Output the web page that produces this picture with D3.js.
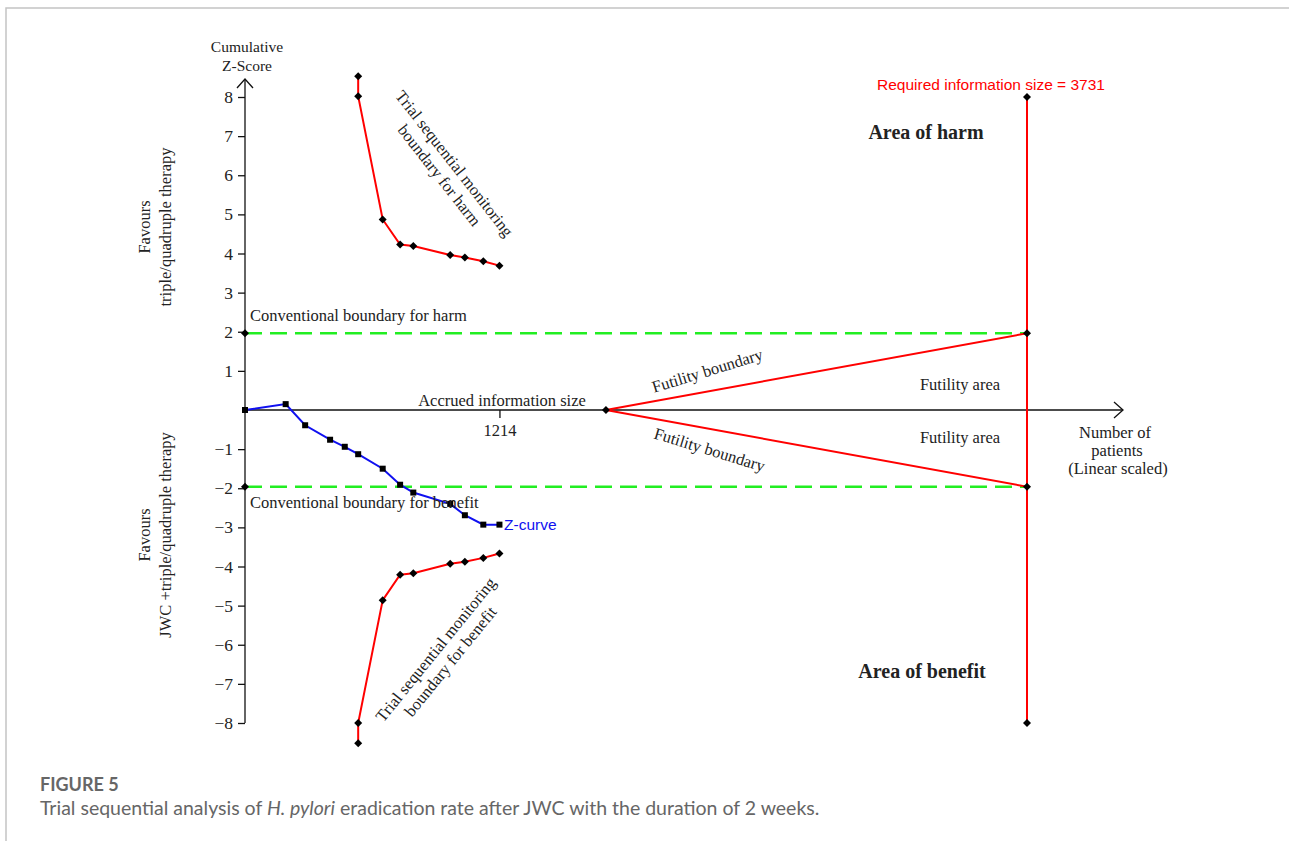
<!DOCTYPE html>
<html lang="en">
<head>
  <meta charset="UTF-8">
  <title>Trial sequential analysis</title>
  <style type="text/css">
    html, body { margin: 0; padding: 0; background: #fff; }
    svg { display: block; }
    .serif { font-family: "Liberation Serif", "Times New Roman", serif; fill: #222; }
    .sans { font-family: "Liberation Sans", Arial, sans-serif; }
    .caption { font-family: Lato, "Open Sans", sans-serif; fill: #666; }
  </style>
</head>
<body>
<div id="chart"></div>
<script src="https://cdn.jsdelivr.net/npm/d3@7"></script>
<script type="text/javascript">
  // data
  var requiredSize = 3731;
  var accruedTick = 1214;
  var conventionalZ = 1.96;
  var futilityStart = 1722;

  var zPatients = [0, 194, 287, 406, 476, 540, 657, 740, 803, 979, 1049, 1137, 1214];
  var zScores = [0, 0.15, -0.39, -0.76, -0.94, -1.13, -1.50, -1.91, -2.11, -2.40, -2.69, -2.93, -2.93];

  var boundaryPatients = [540, 540, 657, 740, 803, 979, 1049, 1137, 1214];
  var harmBoundary = [8.53, 8.02, 4.87, 4.23, 4.19, 3.96, 3.90, 3.80, 3.69];
  var benefitBoundary = [-8.52, -8.0, -4.86, -4.21, -4.17, -3.93, -3.88, -3.78, -3.67];

  var yTicks = [-8, -7, -6, -5, -4, -3, -2, -1, 1, 2, 3, 4, 5, 6, 7, 8];

  var width = 1289, height = 841;

  var svg = d3.select("#chart").append("svg")
    .attr("width", width)
    .attr("height", height);

  // page frame
  svg.append("path")
    .attr("d", "M6,841V8H1289")
    .attr("fill", "none")
    .attr("stroke", "#c4c4c4")
    .attr("stroke-width", 1.5);

  var x = d3.scaleLinear().domain([0, requiredSize]).range([245, 1027]);
  var y = d3.scaleLinear().domain([-8, 8]).range([723, 97]);

  var diamond = "M0,-4L4,0L0,4L-4,0Z";
  var line = d3.line().x(d => x(d[0])).y(d => y(d[1]));

  // axes
  var axes = svg.append("g").attr("stroke", "#111").attr("fill", "none").attr("stroke-width", 1.3);
  axes.append("line").attr("x1", x(0)).attr("x2", x(0)).attr("y1", 79).attr("y2", y(-8));
  axes.append("path").attr("d", "M" + (x(0) - 8) + ",88L" + x(0) + ",79L" + (x(0) + 8) + ",88");
  axes.append("line").attr("x1", x(0)).attr("x2", 1123).attr("y1", y(0)).attr("y2", y(0));
  axes.append("path").attr("d", "M1114,402L1123," + y(0) + "L1114,418");

  var yAxis = d3.axisLeft(y).tickValues(yTicks).tickSize(7).tickPadding(5)
    .tickFormat(d => d < 0 ? "\u2212" + Math.abs(d) : d);
  var gy = svg.append("g").attr("transform", "translate(" + x(0) + ",0)").call(yAxis);
  gy.select(".domain").remove();
  gy.selectAll(".tick line").attr("stroke", "#111").attr("stroke-width", 1.3);
  gy.selectAll(".tick text").attr("class", "serif").attr("font-size", 17.5).attr("fill", "#333");

  var xAxis = d3.axisBottom(x).tickValues([accruedTick]).tickSize(8).tickPadding(6)
    .tickFormat(d3.format("d"));
  var gx = svg.append("g").attr("transform", "translate(0," + y(0) + ")").call(xAxis);
  gx.select(".domain").remove();
  gx.selectAll(".tick line").attr("stroke", "#111").attr("stroke-width", 1.3);
  gx.selectAll(".tick text").attr("class", "serif").attr("font-size", 16.5).attr("fill", "#222");

  // conventional boundaries
  [conventionalZ, -conventionalZ].forEach(function(z) {
    svg.append("line")
      .attr("x1", x(0)).attr("x2", x(requiredSize))
      .attr("y1", y(z)).attr("y2", y(z))
      .attr("stroke", "#22ee22").attr("stroke-width", 2.5)
      .attr("stroke-dasharray", "17,8");
  });

  // required information size
  svg.append("line")
    .attr("x1", x(requiredSize)).attr("x2", x(requiredSize))
    .attr("y1", y(8)).attr("y2", y(-8))
    .attr("stroke", "red").attr("stroke-width", 2);

  // futility boundaries
  var futUpper = [[futilityStart, 0], [requiredSize, conventionalZ]];
  var futLower = [[futilityStart, 0], [requiredSize, -conventionalZ]];
  [futUpper, futLower].forEach(function(pts) {
    svg.append("path").attr("d", line(pts)).attr("fill", "none")
      .attr("stroke", "red").attr("stroke-width", 2);
  });

  // monitoring boundaries
  var harmPts = boundaryPatients.map((p, i) => [p, harmBoundary[i]]);
  var benefitPts = boundaryPatients.map((p, i) => [p, benefitBoundary[i]]);
  [harmPts, benefitPts].forEach(function(pts) {
    svg.append("path").attr("d", line(pts)).attr("fill", "none")
      .attr("stroke", "red").attr("stroke-width", 2);
  });

  // z-curve
  var zPts = zPatients.map((p, i) => [p, zScores[i]]);
  svg.append("path").attr("d", line(zPts)).attr("fill", "none")
    .attr("stroke", "#1010f0").attr("stroke-width", 2);

  // markers
  var diamondPts = harmPts.concat(benefitPts).concat([
    [0, conventionalZ], [0, -conventionalZ],
    [requiredSize, conventionalZ], [requiredSize, -conventionalZ],
    [requiredSize, 8], [requiredSize, -8], [futilityStart, 0]
  ]);
  svg.append("g").selectAll("path").data(diamondPts).join("path")
    .attr("d", diamond)
    .attr("transform", d => "translate(" + x(d[0]) + "," + y(d[1]) + ")")
    .attr("fill", "#000");

  svg.append("g").selectAll("rect").data(zPts).join("rect")
    .attr("x", d => x(d[0]) - 3).attr("y", d => y(d[1]) - 3)
    .attr("width", 6).attr("height", 6)
    .attr("fill", "#000");

  // texts
  function txt(t, px, py, opts) {
    opts = opts || {};
    var el = svg.append("text")
      .attr("class", opts.cls || "serif")
      .attr("x", px).attr("y", py)
      .attr("font-size", opts.size || 16)
      .attr("text-anchor", opts.anchor || "start")
      .text(t);
    if (opts.weight) el.attr("font-weight", opts.weight);
    if (opts.fill) el.attr("fill", opts.fill);
    return el;
  }

  txt("Cumulative", 247, 52, {anchor: "middle", size: 15.5});
  txt("Z-Score", 247, 71, {anchor: "middle", size: 15.5});

  // side labels
  function sideLabel(lines, cy) {
    var g = svg.append("g").attr("transform", "translate(150," + cy + ") rotate(-90)");
    lines.forEach(function(l, i) {
      g.append("text").attr("class", "serif").attr("font-size", 16.5)
        .attr("text-anchor", "middle").attr("y", i * 21).text(l);
    });
  }
  sideLabel(["Favours", "triple/quadruple therapy"], 227);
  sideLabel(["Favours", "JWC +triple/quadruple therapy"], 535);

  txt("Conventional boundary for harm", 250, 321, {size: 16.5});
  txt("Conventional boundary for benefit", 250, 508, {size: 16.5});
  txt("Accrued information size", 502, 406, {anchor: "middle", size: 16.5});
  txt("Z-curve", 504, 530, {cls: "sans", size: 15.5, fill: "#1010f0"});

  function rotLabel(lines, cx, cy, angle) {
    var g = svg.append("g").attr("transform", "translate(" + cx + "," + cy + ") rotate(" + angle + ")");
    lines.forEach(function(l, i) {
      g.append("text").attr("class", "serif").attr("font-size", 16.5)
        .attr("text-anchor", "middle").attr("y", i * 19).text(l);
    });
  }
  rotLabel(["Trial sequential monitoring", "boundary for harm"], 450, 167, 52);
  rotLabel(["Trial sequential monitoring", "boundary for benefit"], 440, 653, -51);

  rotLabel(["Futility boundary"], 709, 376, -17);
  rotLabel(["Futility boundary"], 708, 455, 17);

  txt("Futility area", 960, 390, {anchor: "middle", size: 16.5});
  txt("Futility area", 960, 443, {anchor: "middle", size: 16.5});

  txt("Number of", 1115, 438, {anchor: "middle", size: 16.5});
  txt("patients", 1117, 456, {anchor: "middle", size: 16.5});
  txt("(Linear scaled)", 1118, 474, {anchor: "middle", size: 16.5});

  txt("Area of harm", 926, 139, {anchor: "middle", size: 20, weight: "bold", fill: "#111"});
  txt("Area of benefit", 922, 678, {anchor: "middle", size: 20, weight: "bold", fill: "#111"});

  txt("Required information size = " + requiredSize, 991, 90,
    {cls: "sans", anchor: "middle", size: 15.5, fill: "red"});

  // caption
  txt("FIGURE 5", 40, 791, {cls: "caption", size: 18, weight: "bold", fill: "#555"});
  var cap = svg.append("text").attr("class", "caption").attr("x", 40).attr("y", 815).attr("font-size", 19.5);
  cap.append("tspan").text("Trial sequential analysis of ");
  cap.append("tspan").attr("font-style", "italic").text("H. pylori");
  cap.append("tspan").text(" eradication rate after JWC with the duration of 2 weeks.");
</script>
</body>
</html>
